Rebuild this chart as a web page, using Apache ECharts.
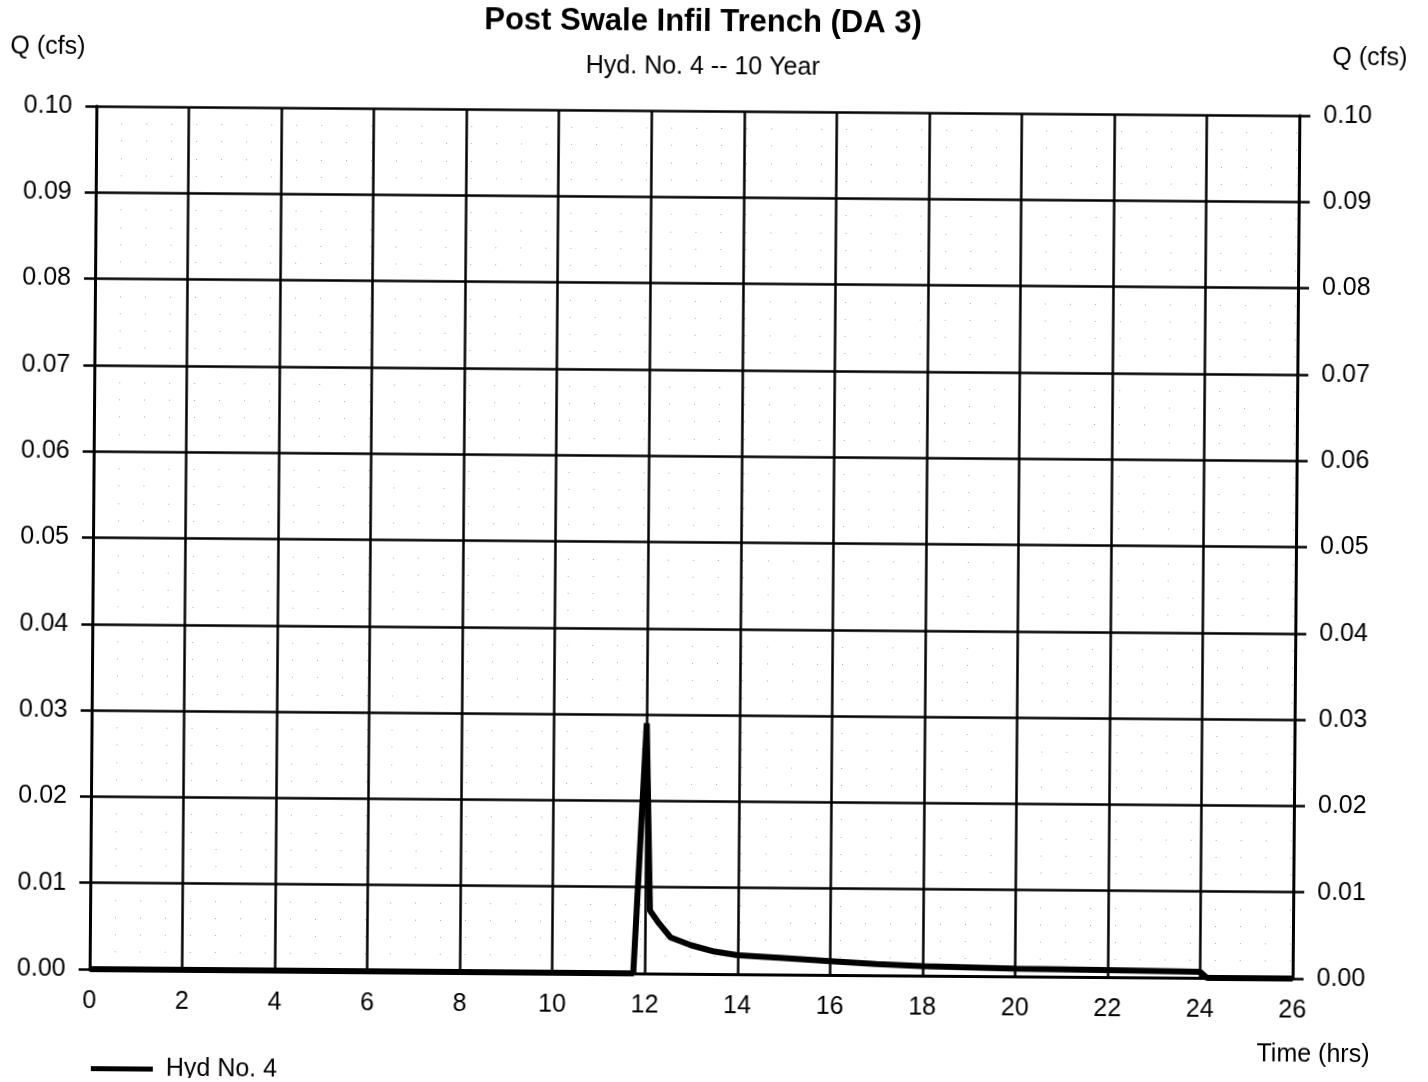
<!DOCTYPE html>
<html>
<head>
<meta charset="utf-8">
<script src="https://cdn.jsdelivr.net/npm/echarts@6/dist/echarts.min.js"></script>
<style>
html, body { margin: 0; padding: 0; background: #fff; overflow: hidden; }
/* the scanned sheet sits slightly skewed, so the whole chart is turned a touch */
#chart { width: 1428px; height: 1082px; transform: rotate(0.45deg); transform-origin: 714px 541px; }
</style>
</head>
<body>
<div id="chart"></div>
<script>
// hydrograph
const timeHrs = [0, 11.75, 12.0, 12.1, 12.3, 12.55, 13.0, 13.5, 14, 15, 16, 17, 18, 20, 22, 24, 24.15, 26]
const flowCfs = [0, 0, 0.029, 0.0073, 0.0058, 0.0042, 0.0033, 0.0026, 0.0022, 0.0019, 0.0016, 0.0013, 0.0011, 0.0009, 0.0008, 0.0007, 0, 0]
const seriesName = 'Hyd No. 4'
const titleText = 'Post Swale Infil Trench (DA 3)'
const subTitleText = 'Hyd. No. 4 -- 10 Year'

const FONT = '"Liberation Sans", Arial, sans-serif'
const chart = echarts.init(document.getElementById('chart'))

const yAxisBase = {
  type: 'value',
  min: 0,
  max: 0.1,
  interval: 0.01,
  axisLine: { show: true, lineStyle: { color: '#000', width: 3 } },
  axisTick: { show: true, inside: false, length: 11, lineStyle: { color: '#000', width: 2.5 } },
  axisLabel: {
    color: '#000', fontSize: 25, fontFamily: FONT, margin: 24,
    formatter: v => v.toFixed(2)
  }
}

const option = {
  animation: false,
  backgroundColor: '#fff',
  grid: { left: 93, right: 132, top: 111, bottom: 108, containLabel: false },
  graphic: [
    { type: 'text', x: 699, y: 22, style: { text: titleText, font: 'bold 31px ' + FONT, fill: '#000', align: 'center', verticalAlign: 'middle' } },
    { type: 'text', x: 699, y: 67, style: { text: subTitleText, font: '25px ' + FONT, fill: '#000', align: 'center', verticalAlign: 'middle' } },
    { type: 'text', x: 44, y: 52, style: { text: 'Q (cfs)', font: '25px ' + FONT, fill: '#000', align: 'center', verticalAlign: 'middle' } },
    { type: 'text', x: 1366, y: 53, style: { text: 'Q (cfs)', font: '25px ' + FONT, fill: '#000', align: 'center', verticalAlign: 'middle' } },
    { type: 'text', x: 1317, y: 1050, style: { text: 'Time (hrs)', font: '25px ' + FONT, fill: '#000', align: 'center', verticalAlign: 'middle' } }
  ],
  legend: {
    left: 90,
    top: 1056,
    icon: 'rect',
    itemWidth: 62,
    itemHeight: 5,
    textStyle: { color: '#000', fontSize: 25, fontFamily: FONT, padding: [0, 0, 0, 8] },
    data: [seriesName]
  },
  xAxis: {
    type: 'value',
    min: 0,
    max: 26,
    interval: 2,
    axisLine: { show: true, onZero: false, lineStyle: { color: '#000', width: 3 } },
    axisTick: { show: false },
    axisLabel: { color: '#000', fontSize: 25, fontFamily: FONT, margin: 20 },
    splitLine: { show: true, lineStyle: { color: '#000', width: 2.5 } }
  },
  yAxis: [
    {
      ...yAxisBase,
      position: 'left',
      splitLine: { show: true, lineStyle: { color: '#000', width: 2.5 } },
      minorTick: { show: false, splitNumber: 5 },
      minorSplitLine: { show: true, lineStyle: { color: '#aaa', width: 1, type: [1, 24] } }
    },
    {
      ...yAxisBase,
      position: 'right',
      splitLine: { show: false }
    }
  ],
  series: [
    {
      name: seriesName,
      type: 'line',
      showSymbol: false,
      symbol: 'none',
      color: '#000',
      lineStyle: { color: '#000', width: 6 },
      data: timeHrs.map((t, i) => [t, flowCfs[i]])
    }
  ]
}

chart.setOption(option)
</script>
</body>
</html>
